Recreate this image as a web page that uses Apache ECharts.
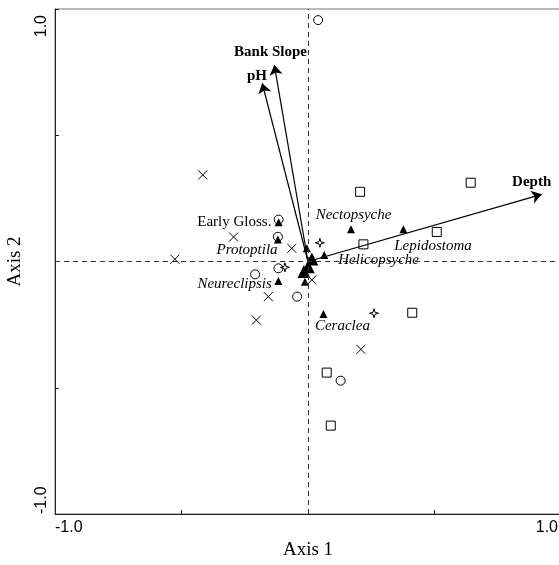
<!DOCTYPE html>
<html>
<head>
<meta charset="utf-8">
<script src="https://cdn.jsdelivr.net/npm/echarts@6/dist/echarts.min.js"></script>
<style>html,body{margin:0;padding:0;background:#fff}</style>
</head>
<body>
<div id="main" style="width:559px;height:565px"></div>
<script>
// site scores, by symbol
var circles = [[0.040, 0.956], [-0.209, -0.051], [-0.043, -0.139], [0.129, -0.472], [-0.117, -0.027], [-0.116, 0.166], [-0.119, 0.098]]
var squares = [[0.206, 0.276], [0.643, 0.312], [0.509, 0.117], [0.219, 0.068], [0.412, -0.203], [0.074, -0.440], [0.090, -0.650]]
var crosses = [[-0.416, 0.343], [-0.294, 0.097], [-0.526, 0.009], [-0.064, 0.052], [0.015, -0.073], [-0.157, -0.139], [-0.204, -0.232], [0.209, -0.348]]
var stars = [[0.047, 0.074], [0.261, -0.205], [-0.091, -0.023]]
var triangles = [[0.170, 0.128], [0.377, 0.128], [0.061, -0.208], [-0.117, -0.077], [-0.012, -0.080], [-0.005, 0.052], [0.064, 0.026], [-0.116, 0.155], [-0.119, 0.087]]
var bigTriangles = [[0.015, 0.010], [0.001, -0.021], [-0.016, -0.040]]

// environmental vectors
var vectorNames = ['Bank Slope', 'pH', 'Depth']
var vectorEnds = [[-0.133, 0.778], [-0.181, 0.706], [0.924, 0.266]]
var vectorLabelPos = [[-0.148, 0.829], [-0.202, 0.735], [0.884, 0.316]]

// species labels
var speciesNames = ['Nectopsyche', 'Lepidostoma', 'Helicopsyche', 'Protoptila', 'Neureclipsis', 'Ceraclea', 'Early Gloss.']
var speciesLabelPos = [[0.180, 0.184], [0.494, 0.063], [0.279, 0.006], [-0.241, 0.046], [-0.290, -0.089], [0.136, -0.255], [-0.291, 0.158]]

var axisMin = -1
var axisMax = 1
var axisStep = 0.5

var serif = 'Liberation Serif'
var sans = 'Liberation Sans'
var crossPath = 'path://M0,0 L10,10 M10,0 L0,10'
var starPath = 'path://M0,-10 L2.2,-2.2 L10,0 L2.2,2.2 L0,10 L-2.2,2.2 L-10,0 L-2.2,-2.2 Z'

function openStyle () {
  return { color: 'rgba(0,0,0,0)', borderColor: '#000', borderWidth: 1, opacity: 1 }
}

function tickText (v) {
  return (v === axisMin || v === axisMax) ? v.toFixed(1) : ''
}

var labelData = []
for (var i = 0; i < vectorNames.length; i++) {
  labelData.push({
    value: vectorLabelPos[i],
    label: { formatter: vectorNames[i], fontWeight: 'bold', fontStyle: 'normal' }
  })
}
for (var j = 0; j < speciesNames.length; j++) {
  labelData.push({
    value: speciesLabelPos[j],
    label: { formatter: speciesNames[j], fontWeight: 'normal', fontStyle: speciesNames[j] === 'Early Gloss.' ? 'normal' : 'italic' }
  })
}

var arrowData = vectorEnds.map(function (p) {
  return { coords: [[0, 0], p] }
})

var chart = echarts.init(document.getElementById('main'))
chart.setOption({
  animation: false,
  grid: {
    left: 55, top: 9, width: 506, height: 505, outerBoundsMode: 'none', containLabel: false,
    show: true, borderColor: '#777', borderWidth: 1
  },
  xAxis: {
    type: 'value', min: axisMin, max: axisMax, interval: axisStep,
    name: 'Axis 1', nameLocation: 'middle', nameGap: 23,
    nameTextStyle: { fontFamily: serif, fontSize: 19, color: '#000' },
    axisLine: { onZero: false, lineStyle: { color: '#222' } },
    axisTick: { inside: true, length: 4, lineStyle: { color: '#222' } },
    axisLabel: {
      formatter: tickText, showMinLabel: true, showMaxLabel: true,
      fontFamily: sans, fontSize: 16, color: '#000', margin: 6, padding: [0, 3, 0, 0],
      alignMinLabel: 'left', alignMaxLabel: 'right'
    },
    splitLine: { show: false }
  },
  yAxis: {
    type: 'value', min: axisMin, max: axisMax, interval: axisStep,
    name: 'Axis 2', nameLocation: 'middle', nameGap: 30, nameRotate: 90,
    nameTextStyle: { fontFamily: serif, fontSize: 19, color: '#000' },
    axisLine: { onZero: false, lineStyle: { color: '#222' } },
    axisTick: { inside: true, length: 4, lineStyle: { color: '#222' } },
    axisLabel: {
      formatter: tickText, showMinLabel: true, showMaxLabel: true, rotate: 90,
      fontFamily: sans, fontSize: 16, color: '#000', margin: 5, padding: [0, 6, 0, 0],
      alignMinLabel: 'left', alignMaxLabel: 'right'
    },
    splitLine: { show: false }
  },
  series: [
    {
      type: 'scatter', data: circles, symbol: 'circle', symbolSize: 9, itemStyle: openStyle(),
      markLine: {
        silent: true, symbol: 'none', label: { show: false },
        lineStyle: { type: [5, 4], color: '#333', width: 1 },
        data: [{ xAxis: 0 }, { yAxis: 0 }]
      }
    },
    { type: 'scatter', data: squares, symbol: 'rect', symbolSize: 9, itemStyle: openStyle() },
    { type: 'scatter', data: crosses, symbol: crossPath, symbolSize: 9, itemStyle: openStyle() },
    { type: 'scatter', data: stars, symbol: starPath, symbolSize: 9, itemStyle: openStyle() },
    { type: 'scatter', data: triangles, symbol: 'triangle', symbolSize: 8, itemStyle: { color: '#000', opacity: 1 } },
    { type: 'scatter', data: bigTriangles, symbol: 'triangle', symbolSize: 13, itemStyle: { color: '#000', opacity: 1 } },
    {
      type: 'lines', coordinateSystem: 'cartesian2d', data: arrowData,
      symbol: ['none', 'arrow'], symbolSize: 10,
      lineStyle: { color: '#000', width: 1.2, opacity: 1 }
    },
    {
      type: 'scatter', data: labelData, symbolSize: 1, itemStyle: { color: 'rgba(0,0,0,0)', opacity: 1 },
      label: { show: true, position: 'inside', fontFamily: serif, fontSize: 15, color: '#000' },
      z: 5
    }
  ]
})
</script>
</body>
</html>
